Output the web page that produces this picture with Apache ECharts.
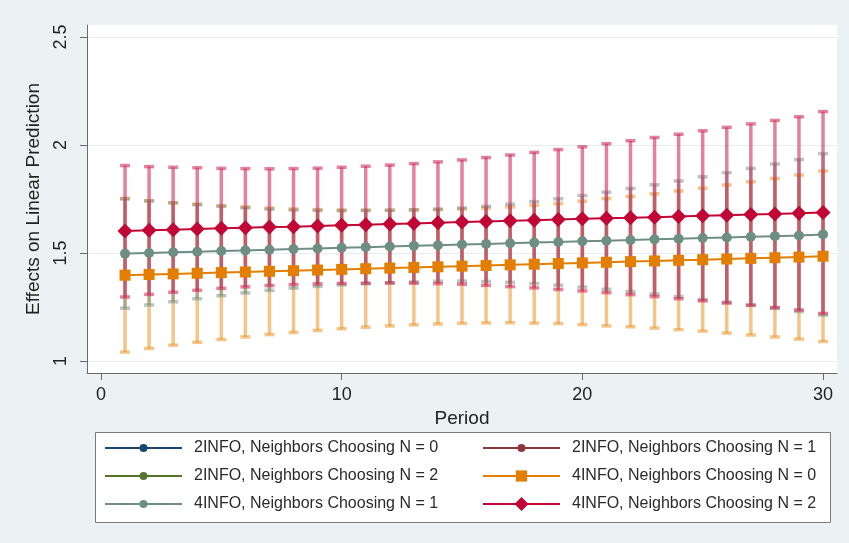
<!DOCTYPE html>
<html>
<head>
<meta charset="utf-8">
<title>Effects on Linear Prediction</title>
<script src="https://cdn.jsdelivr.net/npm/echarts@6/dist/echarts.min.js"></script>
<style>
  html, body { margin: 0; padding: 0; background: #eaf2f3; }
  #chart { width: 849px; height: 543px; }
</style>
</head>
<body>
<div id="chart"></div>
<script>
// periods on x axis
var periods = [1,2,3,4,5,6,7,8,9,10,11,12,13,14,15,16,17,18,19,20,21,22,23,24,25,26,27,28,29,30];

// 4INFO, Neighbors Choosing N = 0
var n0Mid = [1.397,1.400,1.403,1.406,1.409,1.412,1.415,1.418,1.421,1.424,1.427,1.430,1.433,1.436,1.439,
             1.442,1.445,1.448,1.451,1.454,1.457,1.460,1.463,1.466,1.469,1.472,1.475,1.478,1.481,1.485];
var n0Hi  = [1.753,1.742,1.733,1.726,1.719,1.713,1.708,1.704,1.701,1.699,1.698,1.698,1.699,1.701,1.704,
             1.708,1.713,1.721,1.729,1.740,1.752,1.762,1.774,1.787,1.800,1.815,1.830,1.845,1.861,1.880];
var n0Lo  = [1.041,1.058,1.073,1.086,1.099,1.111,1.122,1.132,1.141,1.149,1.156,1.162,1.167,1.171,1.174,
             1.176,1.177,1.175,1.173,1.168,1.162,1.158,1.152,1.145,1.138,1.129,1.120,1.111,1.101,1.090];

// 4INFO, Neighbors Choosing N = 1
var n1Mid = [1.497,1.500,1.503,1.506,1.509,1.512,1.515,1.518,1.521,1.524,1.527,1.530,1.533,1.536,1.539,
             1.542,1.545,1.548,1.551,1.554,1.557,1.560,1.563,1.566,1.569,1.572,1.575,1.578,1.581,1.586];
var n1Hi  = [1.750,1.741,1.732,1.724,1.716,1.709,1.703,1.699,1.697,1.696,1.697,1.698,1.700,1.703,1.708,
             1.716,1.726,1.738,1.751,1.766,1.782,1.799,1.816,1.834,1.853,1.872,1.892,1.912,1.933,1.960];
var n1Lo  = [1.244,1.259,1.274,1.288,1.302,1.315,1.327,1.337,1.345,1.352,1.357,1.362,1.366,1.369,1.370,
             1.368,1.364,1.358,1.351,1.342,1.332,1.321,1.310,1.298,1.285,1.272,1.258,1.244,1.229,1.212];

// 4INFO, Neighbors Choosing N = 2
var n2Mid = [1.602,1.605,1.608,1.611,1.614,1.617,1.620,1.622,1.625,1.628,1.631,1.634,1.637,1.640,1.643,
             1.646,1.649,1.652,1.655,1.658,1.661,1.663,1.666,1.669,1.672,1.675,1.678,1.681,1.684,1.687];
var n2Hi  = [1.905,1.900,1.897,1.895,1.892,1.891,1.890,1.891,1.893,1.897,1.902,1.907,1.914,1.922,1.931,
             1.942,1.954,1.966,1.979,1.992,2.006,2.020,2.035,2.050,2.066,2.082,2.098,2.114,2.131,2.155];
var n2Lo  = [1.296,1.308,1.318,1.327,1.336,1.343,1.349,1.354,1.357,1.359,1.360,1.361,1.360,1.358,1.355,
             1.350,1.344,1.338,1.331,1.324,1.316,1.307,1.298,1.288,1.278,1.268,1.258,1.247,1.236,1.220];

var xTicks = [0, 10, 20, 30];
var yTicks = [1, 1.5, 2, 2.5];

var names = [
  "2INFO, Neighbors Choosing N = 0",
  "2INFO, Neighbors Choosing N = 1",
  "2INFO, Neighbors Choosing N = 2",
  "4INFO, Neighbors Choosing N = 0",
  "4INFO, Neighbors Choosing N = 1",
  "4INFO, Neighbors Choosing N = 2"
];
var colors = ["#1a476f", "#90353b", "#55752f", "#e37e00", "#6e8e84", "#c10534"];

function pairs(ys) {
  return periods.map(function (p, i) { return [p, ys[i]]; });
}
function ranges(lo, hi) {
  return periods.map(function (p, i) { return [p, lo[i], hi[i]]; });
}

// draw a capped error bar
function ciBar(color) {
  return function (params, api) {
    var a = api.coord([api.value(0), api.value(1)]);
    var b = api.coord([api.value(0), api.value(2)]);
    var cap = 5;
    var st = { stroke: color, lineWidth: 3.5 };
    return {
      type: "group",
      children: [
        { type: "line", shape: { x1: a[0], y1: a[1], x2: b[0], y2: b[1] }, style: st },
        { type: "line", shape: { x1: a[0] - cap, y1: a[1], x2: a[0] + cap, y2: a[1] }, style: st },
        { type: "line", shape: { x1: b[0] - cap, y1: b[1], x2: b[0] + cap, y2: b[1] }, style: st }
      ]
    };
  };
}

var font = "Liberation Sans, Arial, sans-serif";

// one legend per entry so each marker keeps its own size
// [name index, left, row centre, marker box]
var legendSpots = [
  [0, 99, 448, 10], [1, 477, 448, 10],
  [2, 99, 476, 10], [3, 477, 476, 14],
  [4, 99, 504, 10], [5, 477, 504, 17.5]
];
var legends = legendSpots.map(function (s) {
  return {
    data: [names[s[0]]],
    left: s[1], top: s[2] - 13,
    itemWidth: 77, itemHeight: s[3],
    textStyle: { fontSize: 16, color: "#2a2a2a", fontFamily: font, padding: [0, 0, 0, 7] },
    selectedMode: false
  };
});

var chart = echarts.init(document.getElementById("chart"));

chart.setOption({
  backgroundColor: "#eaf2f3",
  animation: false,
  textStyle: { fontFamily: font },
  grid: {
    left: 87, right: 12, top: 25, bottom: 170,
    show: true, backgroundColor: "#ffffff", borderWidth: 0
  },
  xAxis: {
    type: "value",
    min: -0.58, max: 30.58,
    name: "Period",
    nameLocation: "middle",
    nameGap: 27,
    nameTextStyle: { fontSize: 19, color: "#222", fontFamily: font },
    axisLine: { show: true, onZero: false, lineStyle: { color: "#6a6a6a", width: 1 } },
    axisTick: { show: true, length: 7, lineStyle: { color: "#6a6a6a" }, customValues: xTicks },
    axisLabel: { fontSize: 18, color: "#222", margin: 13, customValues: xTicks },
    splitLine: { show: false }
  },
  yAxis: {
    type: "value",
    min: 0.944, max: 2.556,
    name: "Effects on Linear Prediction",
    nameLocation: "middle",
    nameRotate: 90,
    nameGap: 44,
    nameTextStyle: { fontSize: 19, color: "#222", fontFamily: font },
    axisLine: { show: true, onZero: false, lineStyle: { color: "#6a6a6a", width: 1 } },
    axisTick: { show: true, length: 7, lineStyle: { color: "#6a6a6a" }, customValues: yTicks },
    axisLabel: {
      fontSize: 18, color: "#222", margin: 17, rotate: 90,
      customValues: yTicks,
      formatter: function (v) { return String(v); }
    },
    splitLine: { show: true, lineStyle: { color: "#e4eef0", width: 1 } }
  },
  legend: legends,
  graphic: [
    {
      type: "rect",
      left: 95, top: 432,
      shape: { width: 735, height: 90 },
      style: { fill: "#ffffff", stroke: "#7a7a7a", lineWidth: 1 },
      z: -1
    }
  ],
  series: [
    { type: "custom", name: "ci0", renderItem: ciBar("rgba(232,140,20,0.5)"), data: ranges(n0Lo, n0Hi), z: 2 },
    { type: "custom", name: "ci1", renderItem: ciBar("rgba(110,142,132,0.5)"), data: ranges(n1Lo, n1Hi), z: 2 },
    { type: "custom", name: "ci2", renderItem: ciBar("rgba(205,40,85,0.58)"), data: ranges(n2Lo, n2Hi), z: 2 },
    { type: "line", name: names[0], data: [], color: colors[0], symbol: "circle", symbolSize: 9, lineStyle: { width: 2 } },
    { type: "line", name: names[1], data: [], color: colors[1], symbol: "circle", symbolSize: 9, lineStyle: { width: 2 } },
    { type: "line", name: names[2], data: [], color: colors[2], symbol: "circle", symbolSize: 9, lineStyle: { width: 2 } },
    { type: "line", name: names[3], data: pairs(n0Mid), color: colors[3], symbol: "rect", symbolSize: 11, lineStyle: { width: 2 }, z: 5 },
    { type: "line", name: names[4], data: pairs(n1Mid), color: colors[4], symbol: "circle", symbolSize: 10, lineStyle: { width: 2 }, z: 5 },
    { type: "line", name: names[5], data: pairs(n2Mid), color: colors[5], symbol: "diamond", symbolSize: 15, lineStyle: { width: 2 }, z: 6 }
  ]
});
</script>
</body>
</html>
